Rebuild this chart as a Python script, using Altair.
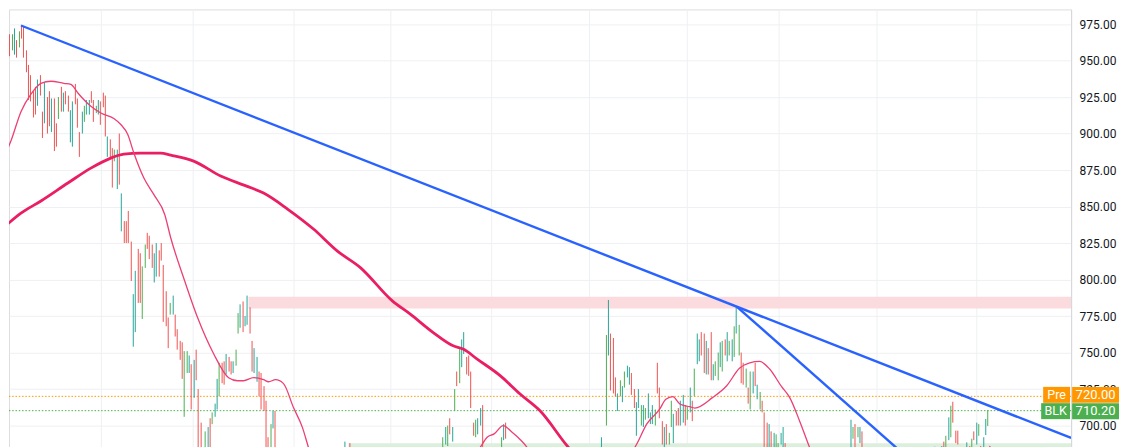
import altair as alt
import pandas as pd

# ---------------- data ----------------
# 4-hour price bars (bar number, high, low, colour code r/g/t)
bar_idx = (list(range(0, 86)) + list(range(87, 118)) + [147, 149]
           + list(range(189, 207)) + [214, 215, 216, 257]
           + list(range(259, 337)) + list(range(364, 370)) + [400]
           + list(range(403, 411)) + list(range(414, 424)))

bar_high = [
    952, 954, 964, 968, 968, 972, 964, 970, 974, 973,
    957, 947, 940, 929, 932, 937, 940, 915, 935, 925,
    929, 924, 924, 907, 925, 932, 928, 929, 926, 916,
    922, 934, 924, 901, 915, 919, 923, 923, 929, 923,
    919, 923, 922, 928, 926, 898, 896, 890, 889, 889,
    900, 859, 840, 840, 847, 826, 790, 806, 821, 818,
    809, 824, 832, 830, 824, 818, 825, 820, 825, 810,
    792, 774, 784, 789, 776, 766, 758, 757, 751, 751,
    748, 742, 745, 752, 725, 702,
    696, 699, 705, 709, 715, 732, 743, 743, 744, 749,
    747, 744, 744, 752, 777, 783, 785, 775, 789, 781,
    758, 753, 747, 737, 736, 727, 717, 692, 701, 710,
    710,
    689, 688,
    692, 699, 700, 705, 699, 725, 737, 753, 759, 764, 747, 748, 737, 702, 704, 705, 712, 714,
    692, 701, 702, 692,
    762, 786, 763, 760, 733, 722, 731, 727, 737, 741,
    740, 736, 725, 716, 725, 714, 714, 712, 722, 709,
    714, 711, 743, 726, 703, 699, 701, 695, 717, 708,
    710, 712, 717, 721, 714, 713, 726, 717, 739, 763,
    759, 764, 763, 758, 753, 764, 742, 744, 750, 757,
    758, 759, 764, 758, 759, 768, 782, 769, 750, 743,
    739, 726, 737, 737, 743, 728, 723, 717, 709, 702,
    701, 696, 695, 694, 688, 695, 699, 688,
    704, 699, 701, 699, 699, 696,
    685.5,
    686, 689, 693, 705.6, 713.6, 716.3, 696.5, 696.5,
    688.5, 686, 691, 696, 702, 701, 686, 692, 704.5, 710.6,
]

bar_low = [
    932, 945, 952, 953, 957, 954, 952, 959, 965, 952,
    942, 923, 922, 911, 913, 919, 926, 897, 907, 900,
    905, 901, 888, 891, 910, 915, 915, 920, 915, 894,
    891, 920, 904, 884, 900, 908, 913, 913, 921, 908,
    914, 913, 906, 918, 898, 884, 883, 863, 881, 862,
    865, 833, 825, 825, 825, 799, 754, 764, 784, 784,
    773, 808, 821, 814, 808, 798, 802, 802, 813, 771,
    768, 753, 776, 776, 761, 752, 745, 732, 706, 736,
    736, 711, 719, 731, 682, 680,
    680, 680, 680, 701, 706, 711, 720, 729, 728, 735,
    737, 735, 736, 741, 763, 767, 764, 768, 769, 763,
    737, 736, 730, 720, 711, 710, 682, 680, 680, 698,
    680,
    678, 678,
    680, 687, 686, 694, 689, 710, 727, 729, 740, 749, 735, 734, 712, 693, 692, 694, 700, 680,
    680, 690, 691, 680,
    700, 748, 724, 722, 720, 710, 720, 716, 726, 733,
    728, 721, 712, 693, 712, 700, 699, 704, 705, 701,
    701, 700, 722, 705, 687, 680, 687, 687, 699, 688,
    700, 700, 700, 702, 700, 704, 709, 703, 720, 742,
    744, 748, 736, 735, 735, 731, 731, 734, 731, 740,
    737, 748, 744, 748, 744, 747, 763, 748, 729, 728,
    726, 715, 711, 722, 727, 718, 711, 709, 680, 680,
    680, 680, 680, 680, 680, 687, 680, 680,
    680, 691, 680, 692, 688, 680,
    680,
    680, 680, 680, 690, 692, 702, 688, 687,
    680, 680, 680, 690, 687, 693, 680, 680, 693.5, 699.7,
]

bar_dir = list(
    "grrrgtrgrr" "rrrrrtrrtr" "rtrrgrtrrt" "trrrtgttrr" "gtrrrtrrgt"
    "rtrrrrttrr" "ggrrrttrrr" "rrgtrrrrgg" "trtrrr"
    "gtrgttgrrt" "rrtggtrttr" "rttrrrrrgt" "r"
    "tr"
    "gtgrtgrgttrrrrgttr"
    "gtrt"
    "gtrrrtgtgt" "trrttgtgtt" "tgrrrtrggt" "rrttrgtrgt" "trrtrrtggt"
    "grtgtgtgrr" "grgtrtgrrr" "trtggttr"
    "tgrgtr"
    "t"
    "trgtgrrr"
    "trgrtgrttg"
)

# moving averages (bar number, value)
ma_slow_idx = [0, 8, 16.6, 28, 38, 46.6, 52, 59.5, 68, 72.3, 82, 93.7, 105, 112,
               122.5, 133.6, 143.8, 153.7, 167.3, 175.2, 185.2, 193.7, 198, 203.8,
               213.7, 222.3, 230.9, 242.3, 248]
ma_slow_val = [834.6, 845.5, 853.8, 866.1, 876.3, 883.2, 885.9, 886.6, 886.6, 885.2,
               881.1, 870.9, 864.0, 859.2, 848.3, 834.6, 819.5, 808.2, 785.4, 776.3,
               763.7, 754.6, 752.4, 745.5, 734.2, 721.6, 710.1, 686.2, 676]

ma_fast_idx = [0, 3.7, 8, 12.3, 16.6, 20.9, 26.5, 29.4, 32.3, 38, 42.3, 48, 50.9, 53.7,
               56.6, 60.9, 65.2, 69.6, 72.3, 77.9, 83.9, 90.7, 97.2, 101, 103.6, 107.9,
               112.2, 114.3, 117.3, 120.7, 125, 128.9, 131.5, 134,
               203, 205.2, 208, 211, 215.2, 219, 222.3, 225.2, 227,
               269, 271.6, 276.6, 282.3, 285.1, 288, 290.9, 295.2, 297.3, 305.2, 310.9,
               316.6, 320.9, 325.2, 329.5, 334.5, 338, 342.3, 346.6, 348,
               421, 424]
ma_fast_val = [881, 895, 915, 927, 934.4, 935.8, 934.4, 933.7, 927.8, 918.7, 914.1, 910.3,
               906.2, 899.3, 886.8, 869.7, 858.3, 844.6, 828.6, 801.1, 773.8, 749.2,
               732.8, 730.7, 730.7, 732.8, 731.4, 730.0, 731.4, 728.7, 712.3, 698.6,
               685, 672,
               680, 685, 692, 694.3, 700, 695.4, 690.5, 685.1, 681,
               680, 685.1, 701.1, 711.4, 718, 719.8, 714.8, 712.9, 712.0, 719.3, 727.3,
               739.4, 743.0, 743.9, 738.7, 726.6, 719.3, 703.2, 685.1, 680,
               679, 686]
ma_fast_seg = ["a"] * 34 + ["b"] * 9 + ["c"] * 20 + ["d"] * 2

# trend lines drawn on the chart
trend_id = ["A", "A", "B", "B"]
trend_idx = [8, 458.9, 315.2, 401.6]
trend_val = [974, 691.5, 781.5, 660]

# zones
zone_name = ["resistance", "support"]
zone_start = [105.8, 148.7]
zone_end = [458.93, 458.93]
zone_low = [780.1, 670]
zone_high = [788.3, 687.8]

# price lines / labels
line_name = ["Pre", "BLK"]
line_val = [720.00, 710.20]

# month separators (bar numbers) and price ticks
grid_idx = [42.4, 81.6, 124.9, 166.6, 209.8, 252.0, 293.8, 333.3, 375.2, 418.3]
price_ticks = [700, 725, 750, 775, 800, 825, 850, 875, 900, 925, 950, 975]

# ---------------- chart ----------------
W, H = 1064, 439
X_DOMAIN = [2.87, 458.93]
Y_DOMAIN = [684.9, 985.03]
GRID = "#eff0f3"
FONT = "Roboto"

xs = alt.Scale(domain=X_DOMAIN, nice=False, zero=False, round=True)
ys = alt.Scale(domain=Y_DOMAIN, nice=False, zero=False)
yaxis = alt.Axis(orient="right", values=price_ticks, format=".2f", title=None,
                 grid=True, gridColor=GRID, gridWidth=1, ticks=False,
                 domain=True, domainColor="#d6d8de", labelColor="#131722",
                 labelFontSize=12, labelFont=FONT, labelPadding=8,
                 labelOverlap=False, labelFlush=False, labelAlign="left",
                 labelBaseline="middle")


def X(f):
    return alt.X(f, type="quantitative", scale=xs, axis=None)


def Y(f):
    return alt.Y(f, type="quantitative", scale=ys, axis=yaxis)


bars_df = pd.DataFrame({"idx": bar_idx, "hi": bar_high, "lo": bar_low, "dir": bar_dir})
slow_df = pd.DataFrame({"idx": ma_slow_idx, "val": ma_slow_val})
fast_df = pd.DataFrame({"idx": ma_fast_idx, "val": ma_fast_val, "seg": ma_fast_seg})
trend_df = pd.DataFrame({"line": trend_id, "idx": trend_idx, "val": trend_val})
zone_df = pd.DataFrame({"name": zone_name, "x0": zone_start, "x1": zone_end,
                        "lo": zone_low, "hi": zone_high})
pl_df = pd.DataFrame({"name": line_name, "val": line_val,
                      "txt": [f"{v:.2f}" for v in line_val]})
grid_df = pd.DataFrame({"idx": grid_idx})

ZONE_COL = {"resistance": "#fbdbde", "support": "#dcefdd"}
LINE_COL = {"Pre": "#ff9800", "BLK": "#4caf50"}
BAR_COL = {"r": "#ef5350", "g": "#4caf50", "t": "#26a69a"}

layers = [alt.Chart(grid_df).mark_rule(color=GRID, strokeWidth=1, xOffset=0.5)
          .encode(x=X("idx"))]

for nm, col in ZONE_COL.items():
    layers.append(alt.Chart(zone_df).transform_filter(alt.datum.name == nm)
                  .mark_rect(clip=True, color=col)
                  .encode(x=X("x0"), x2="x1", y=Y("lo"), y2="hi"))

for nm, col in LINE_COL.items():
    layers.append(alt.Chart(pl_df).transform_filter(alt.datum.name == nm)
                  .mark_rule(strokeDash=[1.5, 1.8], strokeWidth=1, color=col)
                  .encode(y=Y("val")))

for code, col in BAR_COL.items():
    layers.append(alt.Chart(bars_df).transform_filter(alt.datum.dir == code)
                  .mark_rule(strokeWidth=1, clip=True, color=col, xOffset=0.5)
                  .encode(x=X("idx"), y=Y("hi"), y2="lo"))

layers.append(alt.Chart(slow_df).mark_line(color="#e91e63", strokeWidth=2.8, clip=True,
                                           interpolate="monotone")
              .encode(x=X("idx"), y=Y("val")))
layers.append(alt.Chart(fast_df).mark_line(color="#ec3f74", strokeWidth=1.3, clip=True,
                                           interpolate="monotone")
              .encode(x=X("idx"), y=Y("val"), detail="seg:N"))
layers.append(alt.Chart(trend_df).mark_line(color="#2962ff", strokeWidth=2.4, clip=True)
              .encode(x=X("idx"), y=Y("val"), detail="line:N"))

badge_geom = {"Pre": (1036, 1063, 1049.5, -1.5), "BLK": (1034, 1063, 1048.5, 0.5)}
for nm, (bx0, bx1, bcx, yoff) in badge_geom.items():
    src = alt.Chart(pl_df).transform_filter(alt.datum.name == nm)
    col = LINE_COL[nm]
    layers.append(src.mark_rule(strokeWidth=16, yOffset=yoff, color=col).encode(
        x=alt.value(bx0), x2=alt.value(bx1), y=Y("val")))
    layers.append(src.mark_rule(strokeWidth=16, yOffset=yoff, color=col).encode(
        x=alt.value(1065), x2=alt.value(1112), y=Y("val")))
    layers.append(src.mark_text(color="white", font=FONT, fontSize=12.5,
                                align="center", baseline="middle", yOffset=yoff).encode(
        x=alt.value(bcx), y=Y("val"), text="name:N"))
    layers.append(src.mark_text(color="white", font=FONT, fontSize=13,
                                align="center", baseline="middle", yOffset=yoff).encode(
        x=alt.value(1088.5), y=Y("val"), text="txt:N"))

chart = alt.layer(*layers).properties(
    width=W, height=H, padding=0, background="white"
).configure_view(stroke=None).configure(font=FONT)

chart.save("out.html", embed_options={"renderer": "svg", "actions": False})
